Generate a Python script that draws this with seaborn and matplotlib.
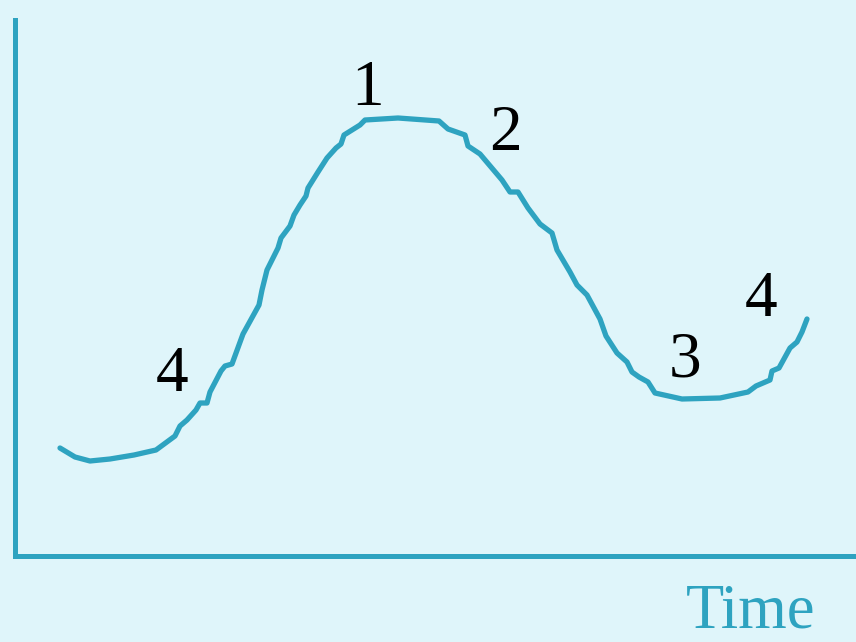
import matplotlib
matplotlib.use("Agg")
import matplotlib.pyplot as plt
import seaborn as sns
import pandas as pd

# curve (arbitrary units, origin at the axes corner)
time = [45, 60, 75, 95, 119, 141, 160, 165, 172, 181, 185, 192, 195, 206, 210, 217,
        228, 244, 247, 252, 263, 266, 275, 279, 285, 291, 293, 303, 312, 321, 326,
        329, 337, 345, 350, 383, 424, 433, 450, 453, 465, 487, 495, 503, 513, 525,
        537, 542, 555, 562, 572, 585, 591, 602, 612, 617, 624, 633, 640, 667, 705,
        733, 741, 755, 757, 764, 775, 782, 787, 792]
level = [108, 99, 95, 97, 101, 106, 120, 130, 136, 146, 153, 153, 164, 185, 190, 192,
         222, 251, 266, 286, 308, 318, 330, 341, 351, 360, 368, 384, 398, 408, 412,
         421, 426, 431, 436, 438, 435, 427, 421, 410, 402, 376, 364, 364, 348, 332,
         323, 306, 284, 271, 261, 237, 220, 203, 194, 184, 179, 174, 163, 157, 158,
         164, 170, 176, 185, 188, 208, 214, 224, 237]

# phase labels
phase_labels = ["1", "2", "4", "3", "4"]
phase_x = [353, 490, 157, 670, 746]
phase_y = [467, 422, 181, 195, 256]

df = pd.DataFrame({"time": time, "level": level})

teal = "#2EA3C0"
bg = "#DFF5FA"

sns.set_style("white")
plt.rcParams["font.family"] = ["Liberation Serif", "DejaVu Serif"]

fig = plt.figure(figsize=(8.56, 6.42), dpi=100, facecolor=bg)
ax = fig.add_axes([15 / 856, 86 / 642, 841 / 856, 536 / 642])
ax.set_facecolor(bg)

sns.lineplot(data=df, x="time", y="level", sort=False, estimator=None,
             color=teal, linewidth=3.8, solid_capstyle="round",
             solid_joinstyle="round", ax=ax)

for lab, x, y in zip(phase_labels, phase_x, phase_y):
    ax.text(x, y, lab, fontsize=47, color="black", ha="center", va="center")

ax.set_xlim(0, 841)
ax.set_ylim(0, 536)
ax.set_xticks([])
ax.set_yticks([])
ax.set_xlabel("")
ax.set_ylabel("")
for side in ["top", "right"]:
    ax.spines[side].set_visible(False)
for side in ["left", "bottom"]:
    ax.spines[side].set_color(teal)
    ax.spines[side].set_linewidth(3.6)

fig.text(751 / 856, 1 - 613 / 642, "Time", fontsize=45, color=teal,
         ha="center", va="center")

fig.savefig("out.png", dpi=100, facecolor=bg)
